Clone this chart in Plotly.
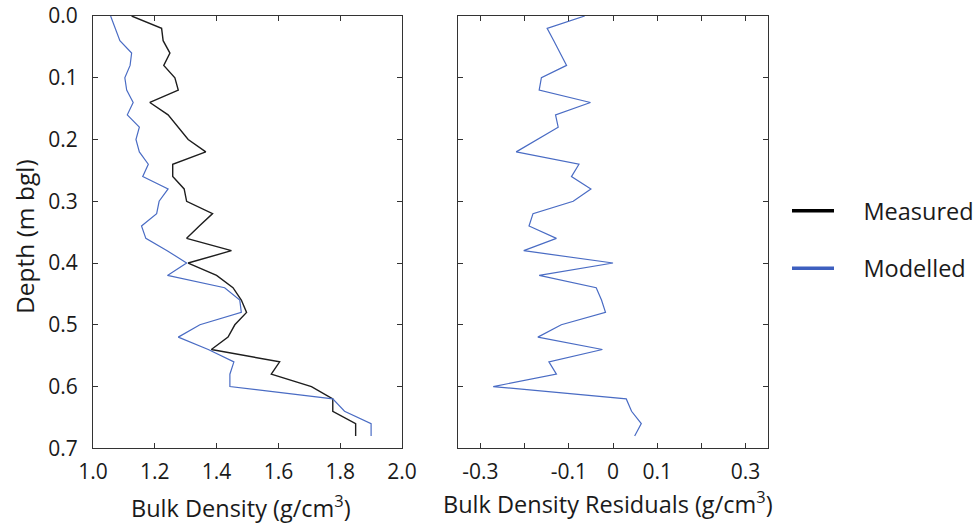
import plotly.graph_objects as go

depth = [0.00, 0.02, 0.04, 0.06, 0.08, 0.10, 0.12, 0.14, 0.16, 0.18,
         0.20, 0.22, 0.24, 0.26, 0.28, 0.30, 0.32, 0.34, 0.36, 0.38,
         0.40, 0.42, 0.44, 0.46, 0.48, 0.50, 0.52, 0.54, 0.56, 0.58,
         0.60, 0.62, 0.64, 0.66, 0.68]

measured = [1.125, 1.222, 1.227, 1.249, 1.229, 1.265, 1.276, 1.184, 1.243, 1.275,
            1.308, 1.365, 1.258, 1.258, 1.295, 1.303, 1.387, 1.344, 1.303, 1.448,
            1.308, 1.400, 1.453, 1.480, 1.497, 1.459, 1.437, 1.383, 1.604, 1.577,
            1.707, 1.776, 1.776, 1.850, 1.850]

modelled = [1.057, 1.073, 1.087, 1.125, 1.120, 1.103, 1.109, 1.130, 1.111, 1.150,
            1.139, 1.150, 1.179, 1.161, 1.243, 1.214, 1.206, 1.157, 1.171, 1.240,
            1.303, 1.241, 1.426, 1.475, 1.480, 1.346, 1.276, 1.373, 1.456, 1.443,
            1.443, 1.776, 1.814, 1.900, 1.900]

residuals = [-0.064, -0.149, -0.134, -0.120, -0.105, -0.162, -0.167, -0.051, -0.130, -0.124,
             -0.172, -0.219, -0.077, -0.094, -0.050, -0.090, -0.181, -0.190, -0.128, -0.202,
             0.000, -0.167, -0.038, -0.026, -0.017, -0.117, -0.170, -0.024, -0.145, -0.128,
             -0.271, 0.030, 0.042, 0.064, 0.049]

depth_ticks = [0.0, 0.1, 0.2, 0.3, 0.4, 0.5, 0.6, 0.7]
density_ticks = [1.0, 1.2, 1.4, 1.6, 1.8, 2.0]
resid_ticks = [-0.3, -0.1, 0.0, 0.1, 0.3]
resid_ticktext = ["-0.3", "-0.1", "0", "0.1", "0.3"]
resid_minor_ticks = [-0.2, 0.2]

BLACK = "#1e1e1e"
BLUE = "#4a6cc4"
FONT = "Open Sans, Noto Sans, sans-serif"
AXC = "#333333"
NB = "\u00a0"

fig = go.Figure()
fig.add_trace(go.Scatter(x=measured, y=depth, mode="lines", line=dict(color=BLACK, width=1.4),
                         xaxis="x", yaxis="y", showlegend=False))
fig.add_trace(go.Scatter(x=modelled, y=depth, mode="lines", line=dict(color=BLUE, width=1.2),
                         xaxis="x", yaxis="y", showlegend=False))
fig.add_trace(go.Scatter(x=residuals, y=depth, mode="lines", line=dict(color=BLUE, width=1.2),
                         xaxis="x2", yaxis="y2", showlegend=False))
# legend-only entries
fig.add_trace(go.Scatter(x=[None], y=[None], mode="lines", name=NB * 4 + "Measured",
                         line=dict(color="#000000", width=3.5), xaxis="x", yaxis="y",
                         legendgroup="a"))
fig.add_trace(go.Scatter(x=[None], y=[None], mode="lines", name=NB * 4 + "Modelled",
                         line=dict(color="#3d5fbf", width=3.5), xaxis="x", yaxis="y",
                         legendgroup="b"))

common = dict(showgrid=False, zeroline=False, showline=True, linecolor=AXC, linewidth=1.2,
              mirror="ticks", ticks="inside", ticklen=5, tickcolor=AXC, tickwidth=1.2,
              automargin=False,
              tickfont=dict(family=FONT, size=21, color="#1a1a1a"))

ydom = [1 - 448.3 / 527, 1 - 16 / 527]
fig.update_layout(
    width=979, height=527,
    margin=dict(l=0, r=0, t=0, b=0, autoexpand=False),
    paper_bgcolor="white", plot_bgcolor="white",
    xaxis=dict(domain=[93 / 979, 402 / 979], range=[1.0, 2.0], tickvals=density_ticks,
               tickformat=".1f", anchor="y", ticklabelstandoff=4, **common),
    yaxis=dict(domain=ydom, range=[0.7, 0.0], tickvals=depth_ticks, tickformat=".1f",
               anchor="x", ticklabelstandoff=10, **common),
    xaxis2=dict(domain=[458.3 / 979, 767.7 / 979], range=[-0.35, 0.35], tickvals=resid_ticks,
                ticktext=resid_ticktext, anchor="y2", ticklabelstandoff=4,
                minor=dict(tickvals=resid_minor_ticks, ticks="inside", ticklen=5,
                           tickcolor=AXC, tickwidth=1.2, showgrid=False),
                **common),
    yaxis2=dict(domain=ydom, range=[0.7, 0.0], tickvals=depth_ticks, showticklabels=False,
                anchor="x2", **common),
    showlegend=True,
    legend=dict(x=787 / 979, y=1 - 189 / 527, xanchor="left", yanchor="top",
                font=dict(family=FONT, size=23.5, color="#1a1a1a"),
                tracegroupgap=24, itemwidth=42, bgcolor="rgba(0,0,0,0)"),
    annotations=[
        dict(text="Depth (m bgl)", x=24 / 979, y=1 - 237 / 527, xref="paper", yref="paper",
             textangle=-90, showarrow=False, xanchor="center", yanchor="middle",
             font=dict(family=FONT, size=24.5, color="#1a1a1a")),
        dict(text="Bulk Density (g/cm<sup>3</sup>)", x=241 / 979, y=1 - 506 / 527,
             xref="paper", yref="paper", showarrow=False, xanchor="center", yanchor="middle",
             font=dict(family=FONT, size=23.5, color="#1a1a1a")),
        dict(text="Bulk Density Residuals (g/cm<sup>3</sup>)", x=607.5 / 979, y=1 - 502 / 527,
             xref="paper", yref="paper", showarrow=False, xanchor="center", yanchor="middle",
             font=dict(family=FONT, size=23.5, color="#1a1a1a")),
    ],
)

fig.write_html("out.html", config={"displayModeBar": False},
               post_script="document.body.style.margin='0px';document.body.style.overflow='hidden';")
